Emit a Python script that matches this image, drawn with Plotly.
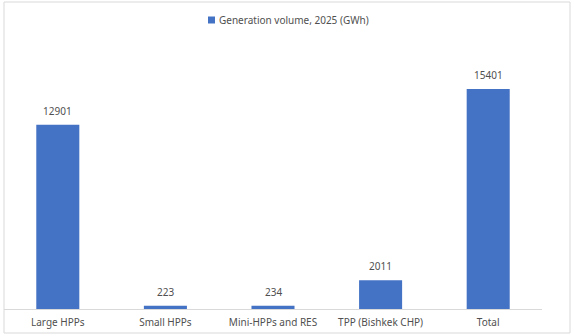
import plotly.graph_objects as go

categories = ["Large HPPs", "Small HPPs", "Mini-HPPs and RES", "TPP (Bishkek CHP)", "Total"]
values = [12901, 223, 234, 2011, 15401]
series_name = "Generation volume, 2025 (GWh)"

L, R, T, B = 4, 32, 52, 27
W, H = 574, 336
pw, ph = W - L - R, H - T - B

def px(x):
    return (x - L) / pw

def py(y):
    return (H - B - y) / ph

FONT = "Noto Sans"
TXT = "#505050"

fig = go.Figure()
fig.add_trace(go.Bar(
    x=categories, y=values, name=series_name,
    marker=dict(color="#4472C4", line=dict(width=0)),
    width=0.4, showlegend=False, hoverinfo="skip",
))
for c, v in zip(categories, values):
    fig.add_annotation(x=c, y=v, text=str(v), showarrow=False, yanchor="bottom",
                       yshift=5, font=dict(family=FONT, size=10, color=TXT))

# legend (marker square + text)
fig.add_shape(type="rect", xref="paper", yref="paper",
              x0=px(208), x1=px(215), y0=py(23.5), y1=py(16.5),
              fillcolor="#4472C4", line=dict(width=0))
fig.add_annotation(xref="paper", yref="paper", x=px(217), y=py(20), xanchor="left",
                   yanchor="middle", text=series_name, showarrow=False,
                   font=dict(family=FONT, size=10, color=TXT))

fig.update_layout(
    width=W, height=H,
    margin=dict(l=L, r=R, t=T, b=B),
    plot_bgcolor="white", paper_bgcolor="white",
    showlegend=False,
    xaxis=dict(showline=True, linecolor="#D9D9D9", linewidth=1, ticks="",
               tickfont=dict(family=FONT, size=10, color=TXT),
               showgrid=False, ticklabelstandoff=4),
    yaxis=dict(range=[0, 18000], visible=False, showgrid=False),
    shapes=list(fig.layout.shapes) + [dict(type="rect", xref="paper", yref="paper",
                 x0=px(4), x1=px(570), y0=py(333), y1=py(2),
                 line=dict(color="#D9D9D9", width=1), fillcolor="rgba(0,0,0,0)", layer="below")],
)
fig.write_html("out.html", config={"displayModeBar": False},
               post_script="document.body.style.margin='0';")
